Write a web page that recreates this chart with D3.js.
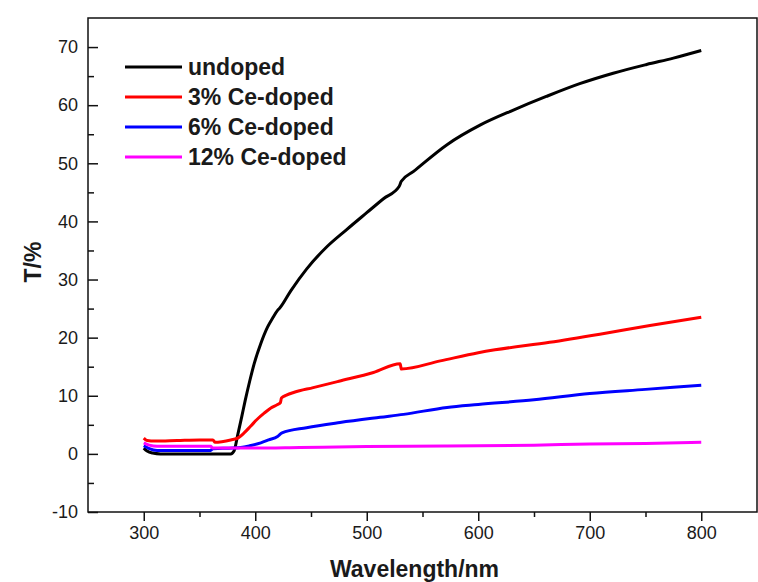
<!DOCTYPE html>
<html>
<head>
<meta charset="utf-8">
<script src="https://cdn.jsdelivr.net/npm/d3@7"></script>
<style>
  body { margin: 0; background: #fff; }
  svg text { font-family: Arial, "Liberation Sans", sans-serif; fill: #1a1a1a; }
</style>
</head>
<body>
<div id="chart"></div>
<script>
// series (wavelength in nm, T in %)
const undopedX = [300, 303, 308, 315, 340, 378, 381, 384, 388, 391, 395, 399, 405, 411, 416, 420, 422, 432, 446, 464, 482, 500, 515, 529, 531, 542, 572, 602, 632, 661, 691, 721, 751, 775, 800];
const undopedT = [1.0, 0.5, 0.15, 0, 0, 0, 0.5, 3, 6.5, 9.2, 12.5, 15.5, 19, 21.8, 23.5, 24.7, 25.1, 28.1, 31.8, 35.6, 38.6, 41.5, 43.9, 46.0, 46.9, 48.6, 53.2, 56.6, 59.2, 61.5, 63.7, 65.5, 67.0, 68.1, 69.4];

const ce3X = [300, 303, 310, 330, 350, 362, 364, 370, 378, 385, 390, 396, 402, 408, 414, 420, 422.5, 423.5, 428, 435, 452, 475, 506, 530, 531, 566, 600, 615, 664, 709, 754, 800];
const ce3T = [2.7, 2.3, 2.2, 2.3, 2.4, 2.4, 2.0, 2.1, 2.4, 2.8, 3.6, 4.8, 6.0, 7.0, 7.9, 8.5, 8.8, 9.6, 10.1, 10.6, 11.4, 12.5, 14.0, 15.5, 14.6, 16.0, 17.4, 17.9, 19.2, 20.6, 22.1, 23.5];

const ce6X = [300, 305, 312, 340, 360, 362, 380, 387, 395, 405, 412, 420, 424, 446, 476, 512, 533, 572, 600, 650, 700, 750, 800];
const ce6T = [1.4, 0.9, 0.6, 0.6, 0.6, 0.9, 1.0, 1.1, 1.4, 1.9, 2.4, 3.0, 3.6, 4.5, 5.4, 6.3, 6.8, 8.0, 8.5, 9.3, 10.4, 11.1, 11.8];

const ce12X = [300, 305, 312, 360, 362, 400, 440, 500, 570, 650, 700, 750, 800];
const ce12T = [1.9, 1.5, 1.3, 1.3, 1.0, 1.0, 1.1, 1.25, 1.35, 1.5, 1.7, 1.8, 2.0];

const seriesNames = ['undoped', '3% Ce-doped', '6% Ce-doped', '12% Ce-doped'];
const seriesColors = ['#000000', '#ff0000', '#0000ff', '#ff00ff'];
const seriesX = [undopedX, ce3X, ce6X, ce12X];
const seriesT = [undopedT, ce3T, ce6T, ce12T];

const xTicks = [300, 400, 500, 600, 700, 800];
const xMinor = [350, 450, 550, 650, 750];
const yTicks = [-10, 0, 10, 20, 30, 40, 50, 60, 70];
const yMinor = [-5, 5, 15, 25, 35, 45, 55, 65];

const width = 758, height = 582;
const margin = { top: 18, right: 1, bottom: 70, left: 88 };
const w = width - margin.left - margin.right;
const h = height - margin.top - margin.bottom;

const svg = d3.select('#chart')
    .append('svg')
    .attr('width', width)
    .attr('height', height)
    .append('g')
    .attr('transform', 'translate(' + margin.left + ',' + margin.top + ')');

const x = d3.scaleLinear().domain([250, 850]).range([0, w]);
const y = d3.scaleLinear().domain([-10, 75]).range([h, 0]);

// x axis, ticks outside
svg.append('g')
    .attr('transform', `translate(0,${h})`)
    .call(d3.axisBottom(x).tickValues(xTicks).tickSize(9).tickSizeOuter(0).tickPadding(5).tickFormat(d => String(d)));
svg.append('g')
    .attr('transform', `translate(0,${h})`)
    .call(d3.axisBottom(x).tickValues(xMinor).tickSize(5).tickSizeOuter(0).tickFormat(''));

// y axis, ticks inside
svg.append('g')
    .call(d3.axisLeft(y).tickValues(yTicks).tickSize(-10).tickSizeOuter(0).tickPadding(10).tickFormat(d => String(d)));
svg.append('g')
    .call(d3.axisLeft(y).tickValues(yMinor).tickSize(-6).tickSizeOuter(0).tickFormat(''));

svg.selectAll('.domain').remove();
svg.selectAll('.tick line').attr('stroke', '#111').attr('stroke-width', 1.5);
svg.selectAll('.tick text').style('font-size', '18px').style('fill', '#1a1a1a');

// frame
svg.append('rect')
    .attr('width', w)
    .attr('height', h)
    .attr('fill', 'none')
    .attr('stroke', '#111')
    .attr('stroke-width', 1.5);

// lines
const line = d3.line()
    .curve(d3.curveMonotoneX)
    .x(d => x(d[0]))
    .y(d => y(d[1]));

seriesX.forEach((xs, i) => {
    svg.append('path')
        .datum(xs.map((v, j) => [v, seriesT[i][j]]))
        .attr('fill', 'none')
        .attr('stroke', seriesColors[i])
        .attr('stroke-width', 3)
        .attr('stroke-linejoin', 'round')
        .attr('d', line);
});

// legend
const legend = svg.append('g').attr('transform', 'translate(37,49)');
seriesNames.forEach((name, i) => {
    const row = legend.append('g').attr('transform', `translate(0,${i * 30})`);
    row.append('line')
        .attr('x1', 0).attr('x2', 57)
        .attr('stroke', seriesColors[i])
        .attr('stroke-width', 3);
    row.append('text')
        .attr('x', 63)
        .attr('dy', '0.35em')
        .style('font-size', '23px')
        .style('font-weight', 'bold')
        .text(name);
});

// axis titles
svg.append('text')
    .attr('x', w / 2 - 8)
    .attr('y', h + 65)
    .attr('text-anchor', 'middle')
    .style('font-size', '23px')
    .style('font-weight', 'bold')
    .text('Wavelength/nm');

svg.append('text')
    .attr('transform', 'rotate(-90)')
    .attr('x', -(262 - margin.top))
    .attr('y', 41 - margin.left)
    .attr('text-anchor', 'middle')
    .style('font-size', '23px')
    .style('font-weight', 'bold')
    .text('T/%');
</script>
</body>
</html>
